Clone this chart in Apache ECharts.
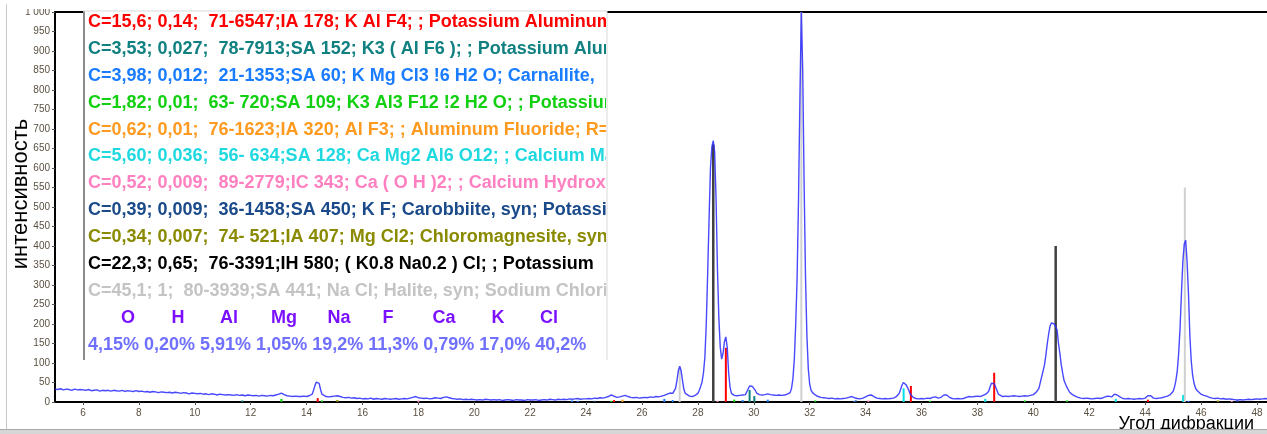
<!DOCTYPE html>
<html>
<head>
<meta charset="utf-8">
<script src="https://cdn.jsdelivr.net/npm/echarts@6/dist/echarts.min.js"></script>
<style>
html,body{margin:0;padding:0;background:#fff;}
#chart{width:1267px;height:434px;}
</style>
</head>
<body>
<div id="chart"></div>
<script>
// ---------- DATA ----------
const xTicks = [6,8,10,12,14,16,18,20,22,24,26,28,30,32,34,36,38,40,42,44,46,48];
const yAxisTitle = 'интенсивность';
const xAxisTitle = 'Угол дифракции';

const spectrum = [
[5.0,33],[5.1,32],[5.2,34],[5.3,31],[5.4,33],[5.5,32],[5.6,30],[5.7,33],[5.8,31],[5.9,32],
[6.0,31],[6.1,30],[6.2,32],[6.3,29],[6.4,30],[6.5,31],[6.6,28],[6.7,30],[6.8,29],[6.9,30],
[7.0,28],[7.1,30],[7.2,29],[7.3,28],[7.4,30],[7.5,27],[7.6,29],[7.7,28],[7.8,27],[7.9,29],
[8.0,27],[8.1,28],[8.2,26],[8.3,27],[8.4,25],[8.5,27],[8.6,26],[8.7,24],[8.8,26],[8.9,25],
[9.0,24],[9.1,25],[9.2,23],[9.3,25],[9.4,24],[9.5,22],[9.6,24],[9.7,23],[9.8,21],[9.9,23],
[10.0,22],[10.1,21],[10.2,22],[10.3,20],[10.4,21],[10.5,19],[10.6,21],[10.7,20],[10.8,18],[10.9,20],
[11.0,19],[11.1,18],[11.2,19],[11.3,18],[11.4,17],[11.5,19],[11.6,17],[11.7,18],[11.8,16],[11.9,18],
[12.0,17],[12.1,16],[12.2,17],[12.3,15],[12.4,17],[12.5,16],[12.6,15],[12.7,17],[12.8,16],[12.9,18],
[13.0,20],[13.1,23],[13.2,19],[13.3,16],[13.4,15],[13.5,14],[13.6,15],[13.7,14],[13.8,14],[13.9,15],
[14.0,14],[14.1,16],[14.2,20],[14.25,30],[14.3,42],[14.35,51],[14.4,54],[14.45,48],[14.5,32],[14.55,20],
[14.6,15],[14.7,14],[14.8,13],[14.9,14],[15.0,15],[15.1,16],[15.2,14],[15.3,12],[15.4,11],[15.5,12],
[15.6,10],[15.7,11],[15.8,9],[15.9,10],
[16.0,8],[16.1,9],[16.2,8],[16.3,10],[16.4,7],[16.5,9],[16.6,8],[16.7,7],[16.8,9],[16.9,8],
[17.0,7],[17.1,8],[17.2,9],[17.3,7],[17.4,8],[17.5,9],[17.6,8],[17.7,10],[17.8,12],[17.9,14],
[18.0,11],[18.1,10],[18.2,9],[18.3,10],[18.4,8],[18.5,9],[18.6,11],[18.7,10],[18.8,9],[18.9,12],
[19.0,13],[19.1,11],[19.2,9],[19.3,8],[19.4,7],[19.5,8],[19.6,6],[19.7,7],[19.8,6],[19.9,7],
[20.0,6],[20.1,5],[20.2,6],[20.3,5],[20.4,7],[20.5,6],[20.6,5],[20.7,6],[20.8,5],[20.9,6],
[21.0,4],[21.1,5],[21.2,6],[21.3,5],[21.4,4],[21.5,6],[21.6,5],[21.7,5],[21.8,4],[21.9,6],
[22.0,5],[22.1,5],[22.2,6],[22.3,4],[22.4,5],[22.5,6],[22.6,5],[22.7,7],[22.8,6],[22.9,5],
[23.0,7],[23.1,6],[23.2,7],[23.3,6],[23.4,8],[23.5,7],[23.6,8],[23.7,9],[23.8,7],[23.9,8],
[24.0,8],[24.1,9],[24.2,8],[24.3,10],[24.4,9],[24.5,11],[24.6,10],[24.7,12],[24.8,14],[24.9,18],
[25.0,15],[25.1,12],[25.2,13],[25.3,15],[25.4,17],[25.5,14],[25.6,12],[25.7,11],[25.8,12],[25.9,10],
[26.0,11],[26.1,12],[26.2,11],[26.3,13],[26.4,12],[26.5,14],[26.6,13],[26.7,15],[26.8,17],[26.9,20],
[27.0,23],[27.1,22],[27.15,25],[27.2,35],[27.25,55],[27.3,80],[27.35,92],[27.4,80],[27.45,55],[27.5,32],
[27.55,22],[27.6,18],[27.7,15],[27.8,14],[27.9,17],[28.0,22],[28.05,30],[28.1,40],[28.15,52],[28.2,75],
[28.25,115],[28.3,200],[28.35,330],[28.4,470],[28.45,600],[28.5,655],[28.55,670],[28.6,640],[28.65,520],[28.7,340],
[28.75,215],[28.8,140],[28.85,110],[28.9,125],[28.95,155],[29.0,167],[29.05,140],[29.1,75],[29.15,38],[29.2,22],
[29.3,17],[29.4,16],[29.5,17],[29.6,18],[29.7,19],[29.75,24],[29.8,34],[29.85,41],[29.9,38],[29.95,40],
[30.0,37],[30.05,30],[30.1,23],[30.2,19],[30.3,18],[30.4,19],[30.5,21],[30.6,19],[30.7,18],[30.8,17],
[30.9,18],[31.0,17],[31.1,18],[31.2,20],[31.3,24],[31.35,35],[31.4,60],[31.45,110],[31.5,200],[31.55,320],
[31.6,520],[31.65,780],[31.7,1000],[31.75,850],[31.8,560],[31.85,320],[31.9,170],[31.95,85],[32.0,45],[32.05,30],
[32.1,24],[32.2,18],[32.3,14],[32.4,12],[32.5,11],[32.6,10],[32.7,9],[32.8,10],[32.9,8],
[33.0,9],[33.1,8],[33.2,9],[33.3,10],[33.4,12],[33.5,14],[33.6,11],[33.7,9],[33.8,8],[33.9,10],
[34.0,13],[34.1,17],[34.2,18],[34.3,14],[34.4,10],[34.5,9],[34.6,8],[34.7,9],[34.8,8],[34.9,9],
[35.0,10],[35.1,14],[35.2,22],[35.25,32],[35.3,43],[35.35,50],[35.4,49],[35.45,44],[35.5,37],[35.55,29],
[35.6,20],[35.7,12],[35.8,9],[35.9,8],[36.0,9],[36.1,8],[36.2,10],[36.3,9],[36.4,12],[36.5,13],
[36.6,10],[36.7,12],[36.8,18],[36.85,20],[36.9,18],[37.0,12],[37.1,9],[37.2,8],[37.3,9],[37.4,8],
[37.5,9],[37.6,12],[37.7,14],[37.8,13],[37.9,14],[38.0,15],[38.1,14],[38.2,17],[38.3,20],[38.4,27],
[38.45,38],[38.5,48],[38.55,52],[38.6,47],[38.65,42],[38.7,30],[38.75,20],[38.8,15],[38.9,14],[39.0,15],
[39.1,14],[39.2,15],[39.3,16],[39.4,15],[39.5,14],[39.6,15],[39.7,16],[39.8,15],[39.9,17],[40.0,19],
[40.1,25],[40.2,35],[40.3,65],[40.4,95],[40.45,120],[40.5,150],[40.55,175],[40.6,195],[40.65,203],[40.7,208],
[40.75,200],[40.8,195],[40.85,185],[40.9,150],[40.95,125],[41.0,95],[41.05,74],[41.1,55],[41.2,38],[41.3,25],
[41.4,19],[41.5,15],[41.6,12],[41.7,10],[41.8,9],[41.9,10],[42.0,9],[42.1,8],[42.2,9],[42.3,10],
[42.4,9],[42.5,11],[42.6,14],[42.7,15],[42.8,13],[42.9,20],[42.95,22],[43.0,18],[43.1,13],[43.2,9],
[43.3,8],[43.4,9],[43.5,8],[43.6,7],[43.7,8],[43.8,9],[43.9,8],[44.0,10],[44.1,16],[44.15,20],
[44.2,16],[44.3,10],[44.4,9],[44.5,10],[44.6,11],[44.7,13],[44.8,15],[44.9,19],[45.0,27],[45.05,38],
[45.1,55],[45.15,80],[45.2,125],[45.25,190],[45.3,280],[45.35,360],[45.4,405],[45.45,415],[45.5,360],[45.55,280],
[45.6,170],[45.65,105],[45.7,68],[45.75,48],[45.8,36],[45.85,30],[45.9,27],[46.0,20],[46.1,17],[46.2,15],
[46.3,12],[46.4,10],[46.5,9],[46.6,10],[46.7,8],[46.8,9],[46.9,7],[47.0,8],[47.1,7],[47.2,6],
[47.3,5],[47.4,6],[47.5,5],[47.6,6],[47.7,7],[47.8,6],[47.9,7],[48.0,8],[48.1,7],[48.2,8],[48.3,9],[48.4,8]
];

// reference lines of identified phases: [angle, intensity]
const sticksKAlF4     = [[14.4,10],[25.0,5],[29.0,139],[35.62,41],[38.6,75],[44.1,6]];
const sticksK3AlF6    = [[11.7,4],[29.85,31],[30.02,15]];
const sticksCarnall   = [[23.5,4],[23.7,3],[26.8,8],[27.1,5],[29.6,5],[30.5,6],[33.6,3],[45.55,3]];
const sticksK3Al3F12  = [[13.1,8],[14.55,4],[24.9,3],[29.3,6],[32.2,4],[36.3,3],[39.7,4],[41.2,4]];
const sticksAlF3      = [[25.3,6]];
const sticksCaMgAl    = [[38.28,8],[35.36,35],[42.95,8],[45.36,18]];
const sticksCaOH2     = [[18.0,4],[28.7,3],[34.1,4],[47.1,3]];
const sticksKF        = [[24.3,3],[33.65,4],[47.3,4]];
const sticksMgCl2     = [[15.1,5],[46.6,4]];
const sticksKNaCl     = [[28.55,660],[40.8,400]];
const sticksNaCl      = [[27.35,87],[31.7,1000],[45.42,550]];

const phaseLines = [
  'C=15,6; 0,14;  71-6547;IA 178; K Al F4; ; Potassium Aluminum',
  'C=3,53; 0,027;  78-7913;SA 152; K3 ( Al F6 ); ; Potassium Aluminum',
  'C=3,98; 0,012;  21-1353;SA 60; K Mg Cl3 !6 H2 O; Carnallite,',
  'C=1,82; 0,01;  63- 720;SA 109; K3 Al3 F12 !2 H2 O; ; Potassium',
  'C=0,62; 0,01;  76-1623;IA 320; Al F3; ; Aluminum Fluoride; R=',
  'C=5,60; 0,036;  56- 634;SA 128; Ca Mg2 Al6 O12; ; Calcium Magn',
  'C=0,52; 0,009;  89-2779;IC 343; Ca ( O H )2; ; Calcium Hydroxide',
  'C=0,39; 0,009;  36-1458;SA 450; K F; Carobbiite, syn; Potassium',
  'C=0,34; 0,007;  74- 521;IA 407; Mg Cl2; Chloromagnesite, syn,',
  'C=22,3; 0,65;  76-3391;IH 580; ( K0.8 Na0.2 ) Cl; ; Potassium',
  'C=45,1; 1;  80-3939;SA 441; Na Cl; Halite, syn; Sodium Chloride'
];
const elements = ['O','H','Al','Mg','Na','F','Ca','K','Cl'];
const elementPercents = ['4,15%','0,20%','5,91%','1,05%','19,2%','11,3%','0,79%','17,0%','40,2%'];

// ---------- STYLE ----------
const phaseColors = ['#ff0000','#108080','#1a7cff','#10d010','#ff9a20','#20d8e0','#ff80c0','#1a4a8a','#8a8a00','#000000','#c4c4c4'];
const stickSets = [sticksKAlF4,sticksK3AlF6,sticksCarnall,sticksK3Al3F12,sticksAlF3,sticksCaMgAl,sticksCaOH2,sticksKF,sticksMgCl2,sticksKNaCl,sticksNaCl];
const stickColors = ['#ff0000','#108080','#1a7cff','#10d010','#ff9a20','#00e0e8','#ff80c0','#1a4a8a','#8a8a00','#404040','#d0d0d0'];
const stickWidths = [2,2,2,2,2,2,2,2,2,2.5,2];
const FONT = '"Liberation Sans", Arial, sans-serif';
const labelColor = '#5a5040';

const chart = echarts.init(document.getElementById('chart'));

const stickSeries = stickSets.map((set, i) => ({
  type: 'custom',
  clip: true,
  z: 2,
  data: set,
  renderItem: function (params, api) {
    const x = api.value(0), h = api.value(1);
    const p0 = api.coord([x, 0]);
    const p1 = api.coord([x, h]);
    return {
      type: 'line',
      shape: { x1: p0[0], y1: p0[1], x2: p1[0], y2: p1[1] },
      style: { stroke: stickColors[i], lineWidth: stickWidths[i] }
    };
  }
}));

const lineTop = 22, lineStep = 26.9, textX = 88;
const legendTexts = phaseLines.map((t, i) => ({
  type: 'text', z: 101, x: textX, y: lineTop + i * lineStep,
  style: { text: t, fill: phaseColors[i], font: 'bold 18px ' + FONT, verticalAlign: 'middle' }
}));
const elemX = [128,178,229,284,339,388,444,498,549];
const elemTexts = elements.map((e, i) => ({
  type: 'text', z: 101, x: elemX[i], y: lineTop + 11 * lineStep,
  style: { text: e, fill: '#7a10ff', font: 'bold 18px ' + FONT, align: 'center', verticalAlign: 'middle' }
}));
const percentText = {
  type: 'text', z: 101, x: textX, y: lineTop + 12 * lineStep,
  style: { text: elementPercents.join(' '), fill: '#7070ff', font: 'bold 18px ' + FONT, verticalAlign: 'middle' }
};

const option = {
  animation: false,
  backgroundColor: '#ffffff',
  grid: { left: 55, right: 0, top: 12, bottom: 32 },
  xAxis: [{
    type: 'value', min: 5, max: 48.36,
    axisLine: { show: true, onZero: false, lineStyle: { color: '#000', width: 2 } },
    axisTick: { show: true, length: 3, customValues: xTicks, lineStyle: { color: '#555' } },
    axisLabel: { customValues: xTicks, color: labelColor, fontSize: 10, fontFamily: FONT, margin: 6 },
    splitLine: { show: false }
  }, {
    type: 'value', position: 'top', min: 5, max: 48.36,
    axisLine: { show: true, onZero: false, lineStyle: { color: '#000', width: 2 } },
    axisTick: { show: false }, axisLabel: { show: false }, splitLine: { show: false }
  }],
  yAxis: {
    type: 'value', min: 0, max: 1000, interval: 50,
    axisLine: { show: true, onZero: false, lineStyle: { color: '#000', width: 2 } },
    axisTick: { show: true, length: 3, lineStyle: { color: '#555' } },
    axisLabel: { color: labelColor, fontSize: 10, fontFamily: FONT, margin: 5,
      formatter: v => (v === 1000 ? '1 000' : String(v)) },
    splitLine: { show: false }
  },
  series: [
    ...stickSeries,
    {
      type: 'line', data: spectrum, showSymbol: false, z: 3, clip: true,
      lineStyle: { color: '#2828ff', width: 1.4, opacity: 0.85 }
    }
  ],
  graphic: [
    // legend box
    { type: 'rect', z: 100, shape: { x: 83, y: 10, width: 524, height: 350 }, style: { fill: '#ffffff' } },
    ...legendTexts,
    ...elemTexts,
    percentText,
    // clipping cover at the right side of the box
    { type: 'rect', z: 102, shape: { x: 606, y: 14, width: 84, height: 346 }, style: { fill: '#ffffff' } },
    { type: 'line', z: 103, shape: { x1: 84, y1: 11, x2: 84, y2: 360 }, style: { stroke: '#8c8c8c', lineWidth: 2 } },
    { type: 'line', z: 103, shape: { x1: 83, y1: 11, x2: 607, y2: 11 }, style: { stroke: '#d8d8d8', lineWidth: 1 } },
    { type: 'line', z: 103, shape: { x1: 607, y1: 11, x2: 607, y2: 360 }, style: { stroke: '#d8d8d8', lineWidth: 1 } },
    // top strip (cuts the top tick label like the original)
    { type: 'rect', z: 99, shape: { x: 8, y: 0, width: 46, height: 9 }, style: { fill: '#ffffff' } },
    // axis titles
    { type: 'text', z: 50, x: 21, y: 194, rotation: Math.PI / 2,
      style: { text: yAxisTitle, fill: '#000', font: '22px ' + FONT, align: 'center', verticalAlign: 'middle' } },
    { type: 'text', z: 50, right: 13, top: 415,
      style: { text: xAxisTitle, fill: '#000', font: '18px ' + FONT } },
    // outer panel frame
    { type: 'line', z: 104, shape: { x1: 6.5, y1: 4, x2: 6.5, y2: 430 }, style: { stroke: '#c8c8c8', lineWidth: 1 } },
    { type: 'rect', z: 104, shape: { x: 0, y: 429, width: 1267, height: 5 }, style: { fill: '#d6d6d6' } },
    { type: 'line', z: 105, shape: { x1: 0, y1: 429.5, x2: 1267, y2: 429.5 }, style: { stroke: '#a8a8a8', lineWidth: 1 } }
  ]
};
chart.setOption(option);
</script>
</body>
</html>
